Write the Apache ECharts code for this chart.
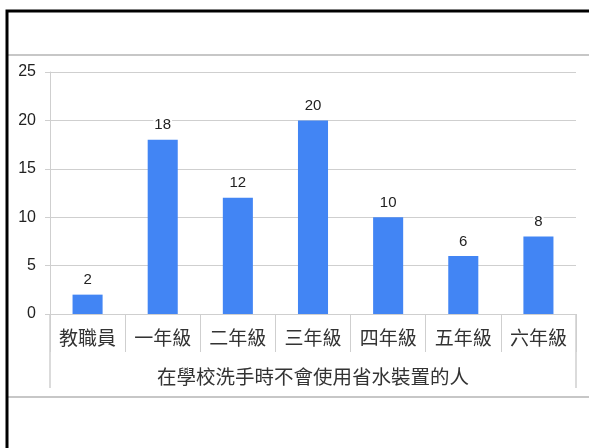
<!DOCTYPE html>
<html>
<head>
<meta charset="utf-8">
<script src="https://cdn.jsdelivr.net/npm/echarts@6/dist/echarts.min.js"></script>
<style>
html,body{margin:0;padding:0;background:#fff;}
#c{width:589px;height:448px;}
</style>
</head>
<body>
<div id="c"></div>
<script>
const categories = ['教職員','一年級','二年級','三年級','四年級','五年級','六年級'];
const values = [2, 18, 12, 20, 10, 6, 8];
const axisName = '在學校洗手時不會使用省水裝置的人';
const yTicks = { min: 0, max: 25, interval: 5 };

const chart = echarts.init(document.getElementById('c'), null, { renderer: 'canvas' });
const cjk = '"Noto Sans CJK TC", "Noto Sans CJK SC", sans-serif';
const lat = '"Liberation Sans", Arial, sans-serif';
const gridCol = '#cfcfcf';
chart.setOption({
  animation: false,
  backgroundColor: '#fff',
  grid: { left: 50, right: 13, top: 72, bottom: 134 },
  xAxis: {
    type: 'category',
    data: categories,
    boundaryGap: true,
    axisLine: { show: true, lineStyle: { color: gridCol, width: 1 } },
    axisTick: { show: true, length: 38, lineStyle: { color: gridCol, width: 1 } },
    axisLabel: { color: '#333', fontSize: 19, fontFamily: cjk, margin: 14 },
    name: axisName,
    nameLocation: 'middle',
    nameGap: 53,
    nameTextStyle: { color: '#333', fontSize: 19.5, fontFamily: cjk }
  },
  yAxis: {
    type: 'value',
    min: yTicks.min, max: yTicks.max, interval: yTicks.interval,
    axisLine: { show: true, lineStyle: { color: gridCol, width: 1 } },
    axisTick: { show: true, length: 5, lineStyle: { color: gridCol } },
    splitLine: { show: true, lineStyle: { color: gridCol, width: 1 } },
    axisLabel: { color: '#222', fontSize: 16, fontFamily: lat, margin: 14 }
  },
  series: [{
    type: 'bar',
    data: values,
    barWidth: '40%',
    itemStyle: { color: '#4285f4' },
    label: {
      show: true, position: 'top', distance: 7,
      color: '#222', fontSize: 15, fontFamily: lat,
      backgroundColor: '#fff', padding: [0, 1]
    }
  }],
  graphic: [
    { type: 'line', shape: { x1: 8, y1: 55, x2: 589, y2: 55 }, style: { stroke: '#b5b5b5', lineWidth: 1.5 }, z: 10 },
    { type: 'line', shape: { x1: 8, y1: 397, x2: 589, y2: 397 }, style: { stroke: '#b5b5b5', lineWidth: 1.5 }, z: 10 },
    { type: 'line', shape: { x1: 50, y1: 314, x2: 50, y2: 388 }, style: { stroke: gridCol, lineWidth: 1.5 }, z: 10 },
    { type: 'line', shape: { x1: 576, y1: 314, x2: 576, y2: 388 }, style: { stroke: gridCol, lineWidth: 1.5 }, z: 10 },
    { type: 'rect', shape: { x: 7, y: 11, width: 700, height: 700 }, style: { fill: 'none', stroke: '#000', lineWidth: 3 }, z: 20 }
  ]
});
</script>
</body>
</html>
